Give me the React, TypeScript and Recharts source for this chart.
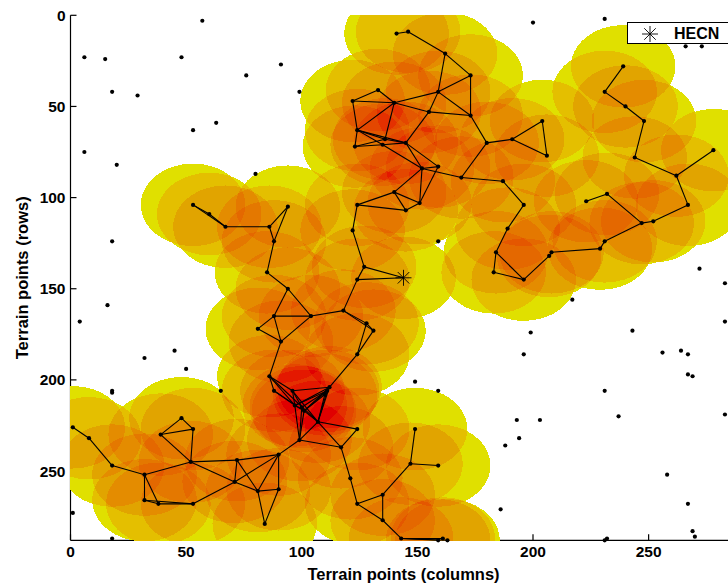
import { Legend, Scatter, ScatterChart, XAxis, YAxis } from 'recharts'

// terrain points with no link (row/col)
const looseX = [57, 6, 15, 48, 91, 76, 18, 29, 99, 63, 53, 6, 20, 80, 18, 200, 231, 266, 273, 159, 272, 283, 217, 199, 243, 283, 196, 256, 264, 267, 267, 269, 149, 159, 231, 193, 203, 237, 283, 194, 188, 258, 267, 186, 269, 270, 231, 232, 16, 4, 45, 32, 50, 65, 18, 18, 1, 18]
const looseY = [3, 23, 24, 23, 27, 33, 42, 44, 42, 59, 63, 75, 82, 87, 124, 4, 2, 17, 17, 124, 139, 147, 156, 174, 173, 168, 186, 185, 184, 186, 197, 198, 201, 206, 206, 222, 222, 220, 219, 232, 236, 252, 268, 271, 283, 286, 288, 287, 159, 168, 184, 188, 194, 206, 206, 207, 273, 287]

// sensors of the network: [id, column, row]
const sensors: [string, number, number][] = [
  ['n1', 141, 10], ['n2', 146, 9], ['n3', 162, 21], ['n4', 173, 33], ['n5', 159, 42],
  ['n6', 173, 55], ['n7', 155, 53], ['n8', 140, 48], ['n9', 145, 70], ['n10', 180, 70],
  ['n11', 191, 68], ['n12', 204, 58], ['n13', 206, 77], ['n14', 152, 84], ['n15', 159, 83],
  ['n16', 169, 89], ['n17', 187, 91], ['n18', 196, 104], ['n19', 189, 117], ['n20', 184, 130],
  ['n21', 183, 141], ['n22', 196, 145], ['n23', 207, 132], ['n24', 208, 130], ['n25', 229, 128],
  ['n26', 231, 124], ['n27', 247, 114], ['n28', 252, 113], ['n29', 267, 104], ['n30', 262, 88],
  ['n31', 278, 74], ['n32', 244, 78], ['n33', 248, 58], ['n34', 240, 50], ['n35', 231, 42],
  ['n36', 239, 28], ['n37', 232, 98], ['n38', 223, 102], ['n39', 140, 97], ['n40', 151, 103],
  ['n41', 145, 107],
  ['a', 133, 41], ['b', 122, 47], ['c', 124, 63], ['d', 136, 68], ['e', 135, 71], ['f', 123, 72],
  ['l1', 53, 104], ['l2', 60, 109], ['l3', 67, 116], ['l4', 86, 116], ['l5', 94, 105], ['l6', 88, 124], ['l7', 85, 141],
  ['m1', 124, 104], ['m2', 122, 118], ['m3', 127, 138],
  ['k1', 94, 150], ['k2', 88, 165], ['k3', 104, 165], ['k4', 81, 172], ['k5', 91, 179],
  ['k6', 118, 162], ['k7', 124, 145], ['k8', 128, 169], ['k9', 131, 173], ['k10', 124, 186],
  ['d1', 86, 198], ['d2', 112, 204], ['d2b', 111, 206], ['d2c', 110, 208], ['d3', 96, 206],
  ['d4', 88, 206], ['d5', 97, 214], ['d6', 100, 215], ['d7', 101, 217], ['d8', 107, 223],
  ['d9', 124, 227], ['d10', 99, 233], ['d11', 117, 237],
  ['s1', 90, 241], ['s2', 72, 244], ['s3', 52, 245], ['s4', 53, 227], ['s5', 48, 221],
  ['s6', 39, 230], ['s7', 32, 252], ['s8', 18, 247], ['s9', 8, 232], ['s10', 1, 226],
  ['s11', 32, 266], ['s12', 38, 268], ['s13', 53, 268], ['s14', 71, 256], ['s15', 81, 261],
  ['s16', 90, 260], ['s17', 84, 279],
  ['t1', 121, 254], ['t2', 124, 268], ['t3', 135, 263], ['t4', 135, 277],
  ['u1', 149, 227], ['u2', 147, 246], ['u3', 159, 247],
  ['v1', 143, 287], ['v2', 161, 287], ['v3', 159, 288], ['v4', 163, 288],
]

const links = `n1-n2 n2-n3 n3-n4 n3-n5 n4-n5 n4-n6 n5-n6 n5-n7 n5-n8 n7-n6 n7-n8 n7-n9 n6-n10 n10-n11 n11-n12 n12-n13 n11-n13
n10-n16 n16-n17 n17-n18 n18-n19 n19-n20 n20-n21 n20-n22 n21-n22 n22-n23 n23-n24 n24-n25 n25-n26 n26-n27 n27-n28 n28-n29
n29-n30 n30-n31 n30-n32 n32-n33 n33-n34 n34-n35 n35-n36 n27-n37 n37-n38 n9-n14 n9-n15 n14-n16 n14-n15 n15-n40 n14-n40 n14-n39
n39-n40 n39-n41 n41-n40 a-b a-n8 b-n8 b-c c-f c-n8 c-d c-n9 c-e f-d f-e d-n8 d-n9 e-n9 e-n14
l1-l2 l1-l3 l2-l3 l3-l4 l4-l5 l4-l6 l5-l6 l6-l7 m1-n39 m1-n41 m1-m2 m2-m3 m3-k7 m3-hecn k7-hecn
l7-k1 k1-k2 k1-k3 k2-k3 k2-k4 k4-k5 k2-k5 k3-k5 k3-k6 k6-k7 k6-k8 k6-k9 k8-k9 k8-k10 k9-k10 k10-d2 k5-d1
d1-d3 d1-d4 d1-d5 d1-d8 d4-d5 d4-d7 d3-d2 d3-d5 d3-d7 d3-d8 d5-d10 d6-d10 d7-d10 d5-d2 d5-d2b d6-d2b d7-d2 d7-d2b d7-d2c
d8-d2 d8-d2b d8-d2c d7-d8 d5-d7 d10-d8 d8-d9 d8-d11 d9-d11 d10-d11 d10-s1 d11-t1
s1-s2 s1-s14 s1-s15 s1-s16 s2-s3 s2-s14 s2-s15 s3-s4 s3-s6 s4-s5 s4-s6 s5-s6 s3-s7 s3-s14 s14-s15 s14-s13 s15-s16 s15-s17 s16-s17
s7-s8 s8-s9 s9-s10 s7-s11 s7-s12 s11-s12 s11-s13 s12-s13
t1-t2 t2-t3 t2-t4 t3-t4 t3-u2 u1-u2 u2-u3 t4-v1 v1-v2 v1-v3 v1-v4`.split(/\s+/)

const hecn = [{ x: 144, y: 144 }]
const xTicks = [0, 50, 100, 150, 200, 250]
const yTicks = [0, 50, 100, 150, 200, 250]

const looseData = looseX.map((x, i) => ({ x, y: looseY[i] }))
const sensorData = sensors.map(([, x, y]) => ({ x, y }))
const byId: Record<string, { x: number; y: number }> = { hecn: hecn[0] }
sensors.forEach(([id, x, y]) => { byId[id] = { x, y } })
const linkData = links.map((l) => l.split('-').map((id) => byId[id]))

// coverage colour by number of overlapping discs (0 = nothing)
const LEVELS = ['#ffffff', '#e0e000', '#e4c000', '#e2a400', '#e48c00', '#e47800', '#e46800', '#e45800', '#e44800', '#e43000', '#e41800', '#e00000']
const DISC_ALPHA = 0.15
const BINS = 256

const levelOf = (i: number) => {
  const v = (i + 0.5) / BINS
  return Math.min(LEVELS.length - 1, Math.round(Math.log(1 - v) / Math.log(1 - DISC_ALPHA)))
}
const table = (start: number) =>
  Array.from({ length: BINS }, (_, i) => parseInt(LEVELS[levelOf(i)].slice(start, start + 2), 16) / 255).join(' ')
const mask = Array.from({ length: BINS }, (_, i) => (levelOf(i) > 0 ? 1 : 0)).join(' ')

const WIDTH = 740
const HEIGHT = 585
const PLOT = { left: 70.5, top: 15.3, width: 666, height: 525 }
const X_MAX = 288
const Y_MAX = 287.5
const RADIUS = 22.6 // coverage radius, in terrain points
const FONT = '"Liberation Sans", Arial, sans-serif'

const Disc = (p: any) => (
  <ellipse
    cx={p.cx}
    cy={p.cy}
    rx={(RADIUS * PLOT.width) / X_MAX}
    ry={(RADIUS * PLOT.height) / Y_MAX}
    fill="#000"
    fillOpacity={DISC_ALPHA}
    shapeRendering="crispEdges"
  />
)
const Dot = (p: any) => <circle cx={p.cx} cy={p.cy} r={2.1} fill="#000" />
const NoMark = () => null

const starLines = (cx: number, cy: number, r: number) => {
  const d = r * 0.72
  return (
    <g stroke="#000" strokeWidth={0.9}>
      <line x1={cx - r} y1={cy} x2={cx + r} y2={cy} />
      <line x1={cx} y1={cy - r} x2={cx} y2={cy + r} />
      <line x1={cx - d} y1={cy - d} x2={cx + d} y2={cy + d} />
      <line x1={cx - d} y1={cy + d} x2={cx + d} y2={cy - d} />
    </g>
  )
}
const Star = (p: any) => starLines(p.cx, p.cy, 8)

const HecnLegend = () => (
  <div
    style={{
      width: 110,
      height: 20,
      border: '1.5px solid #000',
      background: '#fff',
      position: 'relative',
      fontFamily: FONT,
      fontWeight: 'bold',
      fontSize: 16,
      color: '#000',
    }}
  >
    <svg width={40} height={20} style={{ position: 'absolute', left: 0, top: 0 }}>
      {starLines(22, 11, 8)}
    </svg>
    <span style={{ position: 'absolute', left: 46, top: 2 }}>HECN</span>
  </div>
)

const tickStyle = { fontFamily: FONT, fontSize: 15.5, fontWeight: 'bold', fill: '#000' }
const labelStyle = { fontFamily: FONT, fontSize: 16.5, fontWeight: 'bold', fill: '#000', textAnchor: 'middle' as const }
const axisLine = { stroke: '#000', strokeWidth: 1.2 }

export default function App() {
  return (
    <div style={{ position: 'absolute', left: 0, top: 0, width: 728, height: HEIGHT, overflow: 'hidden', background: '#fff' }}>
      <svg width={0} height={0} style={{ position: 'absolute' }}>
        <defs>
          <filter
            id="coverage"
            filterUnits="userSpaceOnUse"
            x={PLOT.left}
            y={PLOT.top}
            width={PLOT.width}
            height={PLOT.height}
            colorInterpolationFilters="sRGB"
          >
            <feColorMatrix in="SourceGraphic" type="matrix" values="0 0 0 1 0  0 0 0 1 0  0 0 0 1 0  0 0 0 0 1" result="count" />
            <feComponentTransfer in="count" result="painted">
              <feFuncR type="discrete" tableValues={table(1)} />
              <feFuncG type="discrete" tableValues={table(3)} />
              <feFuncB type="discrete" tableValues={table(5)} />
            </feComponentTransfer>
            <feComponentTransfer in="SourceAlpha" result="cover">
              <feFuncA type="discrete" tableValues={mask} />
            </feComponentTransfer>
            <feComposite in="painted" in2="cover" operator="in" />
          </filter>
        </defs>
      </svg>
      <style>{`.coverage-discs { filter: url(#coverage); }`}</style>
      <ScatterChart
        width={WIDTH}
        height={HEIGHT}
        margin={{ top: PLOT.top, right: WIDTH - PLOT.left - PLOT.width, bottom: 0, left: 0 }}
      >
        <XAxis
          dataKey="x"
          type="number"
          domain={[0, X_MAX]}
          ticks={xTicks}
          height={HEIGHT - PLOT.top - PLOT.height}
          tickSize={-6}
          tickMargin={12}
          tick={tickStyle}
          axisLine={axisLine}
          tickLine={axisLine}
          label={{ value: 'Terrain points (columns)', position: 'insideBottom', offset: 5, style: labelStyle }}
        />
        <XAxis
          xAxisId="top"
          orientation="top"
          type="number"
          domain={[0, X_MAX]}
          ticks={xTicks}
          height={0}
          tickSize={-6}
          tickFormatter={() => ''}
          axisLine={axisLine}
          tickLine={axisLine}
        />
        <YAxis
          dataKey="y"
          type="number"
          reversed
          domain={[0, Y_MAX]}
          ticks={yTicks}
          width={PLOT.left}
          tickSize={-6}
          tickMargin={11}
          tick={tickStyle}
          axisLine={axisLine}
          tickLine={axisLine}
          label={{ value: 'Terrain points (rows)', angle: -90, position: 'insideLeft', offset: 22, style: labelStyle }}
        />
        <Scatter
          className="coverage-discs"
          data={[...sensorData, ...hecn]}
          shape={Disc}
          legendType="none"
          isAnimationActive={false}
        />
        {linkData.map((pair, i) => (
          <Scatter
            key={i}
            data={pair}
            shape={NoMark}
            line={{ stroke: '#000', strokeWidth: 1.1 }}
            legendType="none"
            isAnimationActive={false}
          />
        ))}
        <Scatter data={looseData} shape={Dot} legendType="none" isAnimationActive={false} />
        <Scatter data={sensorData} shape={Dot} legendType="none" isAnimationActive={false} />
        <Scatter name="HECN" data={hecn} shape={Star} isAnimationActive={false} />
        <Legend
          layout="vertical"
          align="center"
          verticalAlign="middle"
          content={HecnLegend}
          wrapperStyle={{ left: 627, top: 22, width: 113, height: 23 }}
        />
      </ScatterChart>
    </div>
  )
}
